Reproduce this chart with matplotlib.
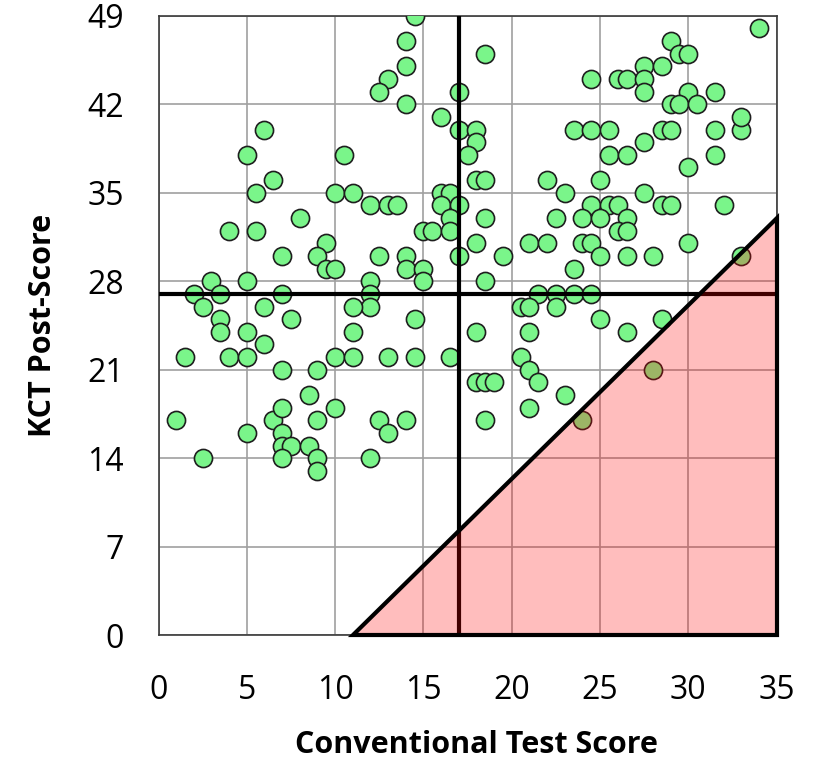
import matplotlib.pyplot as plt
from matplotlib.patches import Polygon

# conventional test score (x) and KCT post-score (y), one entry per student
conventional = [
    14.5, 14, 14, 13, 12.5, 14, 17, 16, 17, 6, 5, 10.5, 6.5, 5.5, 10, 11, 12, 13, 13.5,
    16, 16.5, 16, 17, 16.5, 15, 15.5, 16.5, 8, 4, 5.5, 9.5, 9, 7, 9.5, 10, 12.5, 14, 14,
    15, 15, 17, 12, 12, 12, 11, 3, 2, 3.5, 5, 7, 2.5, 6, 3.5, 7.5, 14.5,
    3.5, 5, 6, 11, 1.5, 4, 5, 10, 11, 13, 14.5, 16.5, 7, 9, 8.5, 1, 6.5, 7, 10, 9, 12.5,
    14, 13, 5, 7, 7, 7.5, 8.5, 7, 9, 9, 2.5, 12,
    18.5, 34, 29, 29.5, 30, 27.5, 28.5, 24.5, 26, 26.5, 27.5, 27.5, 30, 31.5, 29, 29.5,
    30.5, 18, 18, 17.5, 23.5, 24.5, 25.5, 28.5, 29, 31.5, 33, 33, 27.5, 25.5, 26.5, 31.5,
    30, 18, 18.5, 22, 25, 23, 27.5, 18.5, 24.5, 25.5, 26, 28.5, 29, 32, 22.5, 24, 25,
    26.5, 26, 26.5, 18, 21, 22, 24, 24.5, 30, 19.5, 25, 26.5, 28, 33, 23.5, 18.5, 21.5,
    22.5, 23.5, 24.5, 20.5, 21, 22.5, 25, 28.5, 18, 21, 26.5, 20.5, 21, 21.5, 18, 18.5,
    19, 23, 21, 18.5, 28, 24,
]
kct_post = [
    49, 47, 45, 44, 43, 42, 43, 41, 40, 40, 38, 38, 36, 35, 35, 35, 34, 34, 34,
    35, 35, 34, 34, 33, 32, 32, 32, 33, 32, 32, 31, 30, 30, 29, 29, 30, 30, 29,
    29, 28, 30, 28, 27, 26, 26, 28, 27, 27, 28, 27, 26, 26, 25, 25, 25,
    24, 24, 23, 24, 22, 22, 22, 22, 22, 22, 22, 22, 21, 21, 19, 17, 17, 18, 18, 17, 17,
    17, 16, 16, 16, 15, 15, 15, 14, 14, 13, 14, 14,
    46, 48, 47, 46, 46, 45, 45, 44, 44, 44, 44, 43, 43, 43, 42, 42,
    42, 40, 39, 38, 40, 40, 40, 40, 40, 40, 40, 41, 39, 38, 38, 38,
    37, 36, 36, 36, 36, 35, 35, 33, 34, 34, 34, 34, 34, 34, 33, 33, 33,
    33, 32, 32, 31, 31, 31, 31, 31, 31, 30, 30, 30, 30, 30, 29, 28, 27,
    27, 27, 27, 26, 26, 26, 25, 25, 24, 24, 24, 22, 21, 20, 20, 20,
    20, 19, 18, 17, 21, 17,
]

x_ticks = [0, 5, 10, 15, 20, 25, 30, 35]
y_ticks = [0, 7, 14, 21, 28, 35, 42, 49]
x_cut = 17
y_cut = 27
zone = [(11, 0), (35, 0), (35, 33)]

plt.rcParams['font.family'] = ['Open Sans', 'DejaVu Sans']

fig = plt.figure(figsize=(8.2, 7.59), dpi=100)
ax = fig.add_axes([0.1933, 0.163, 0.7538, 0.8163])

ax.scatter(conventional, kct_post, s=170, facecolor='#7af58a', edgecolor='#1e1e1e',
           linewidth=1.2, zorder=3)

ax.axvline(x_cut, color='black', linewidth=3, zorder=4)
ax.axhline(y_cut, color='black', linewidth=3, zorder=4)

tri = Polygon(zone, closed=True, facecolor=(1, 0, 0, 0.26), edgecolor='black',
              linewidth=3, zorder=5, clip_on=False)
ax.add_patch(tri)

ax.set_xlim(0, 35)
ax.set_ylim(0, 49)
ax.set_xticks(x_ticks)
ax.set_yticks(y_ticks)
ax.grid(True, color='#a0a0a0', linewidth=1.2, zorder=0)
ax.set_axisbelow(True)
ax.tick_params(length=0, labelsize=23)
ax.tick_params(axis='x', pad=28)
ax.tick_params(axis='y', pad=25)
for s in ax.spines.values():
    s.set_color('#3a3a3a')
    s.set_linewidth(1.2)

ax.set_xlabel('Conventional Test Score', fontsize=22, fontweight='bold')
ax.set_ylabel('KCT Post-Score', fontsize=22, fontweight='bold')
ax.xaxis.label.set_va('center')
ax.xaxis.set_label_coords(0.514, -0.177)
ax.yaxis.set_label_coords(-0.162, 0.5)

plt.savefig('out.png')
